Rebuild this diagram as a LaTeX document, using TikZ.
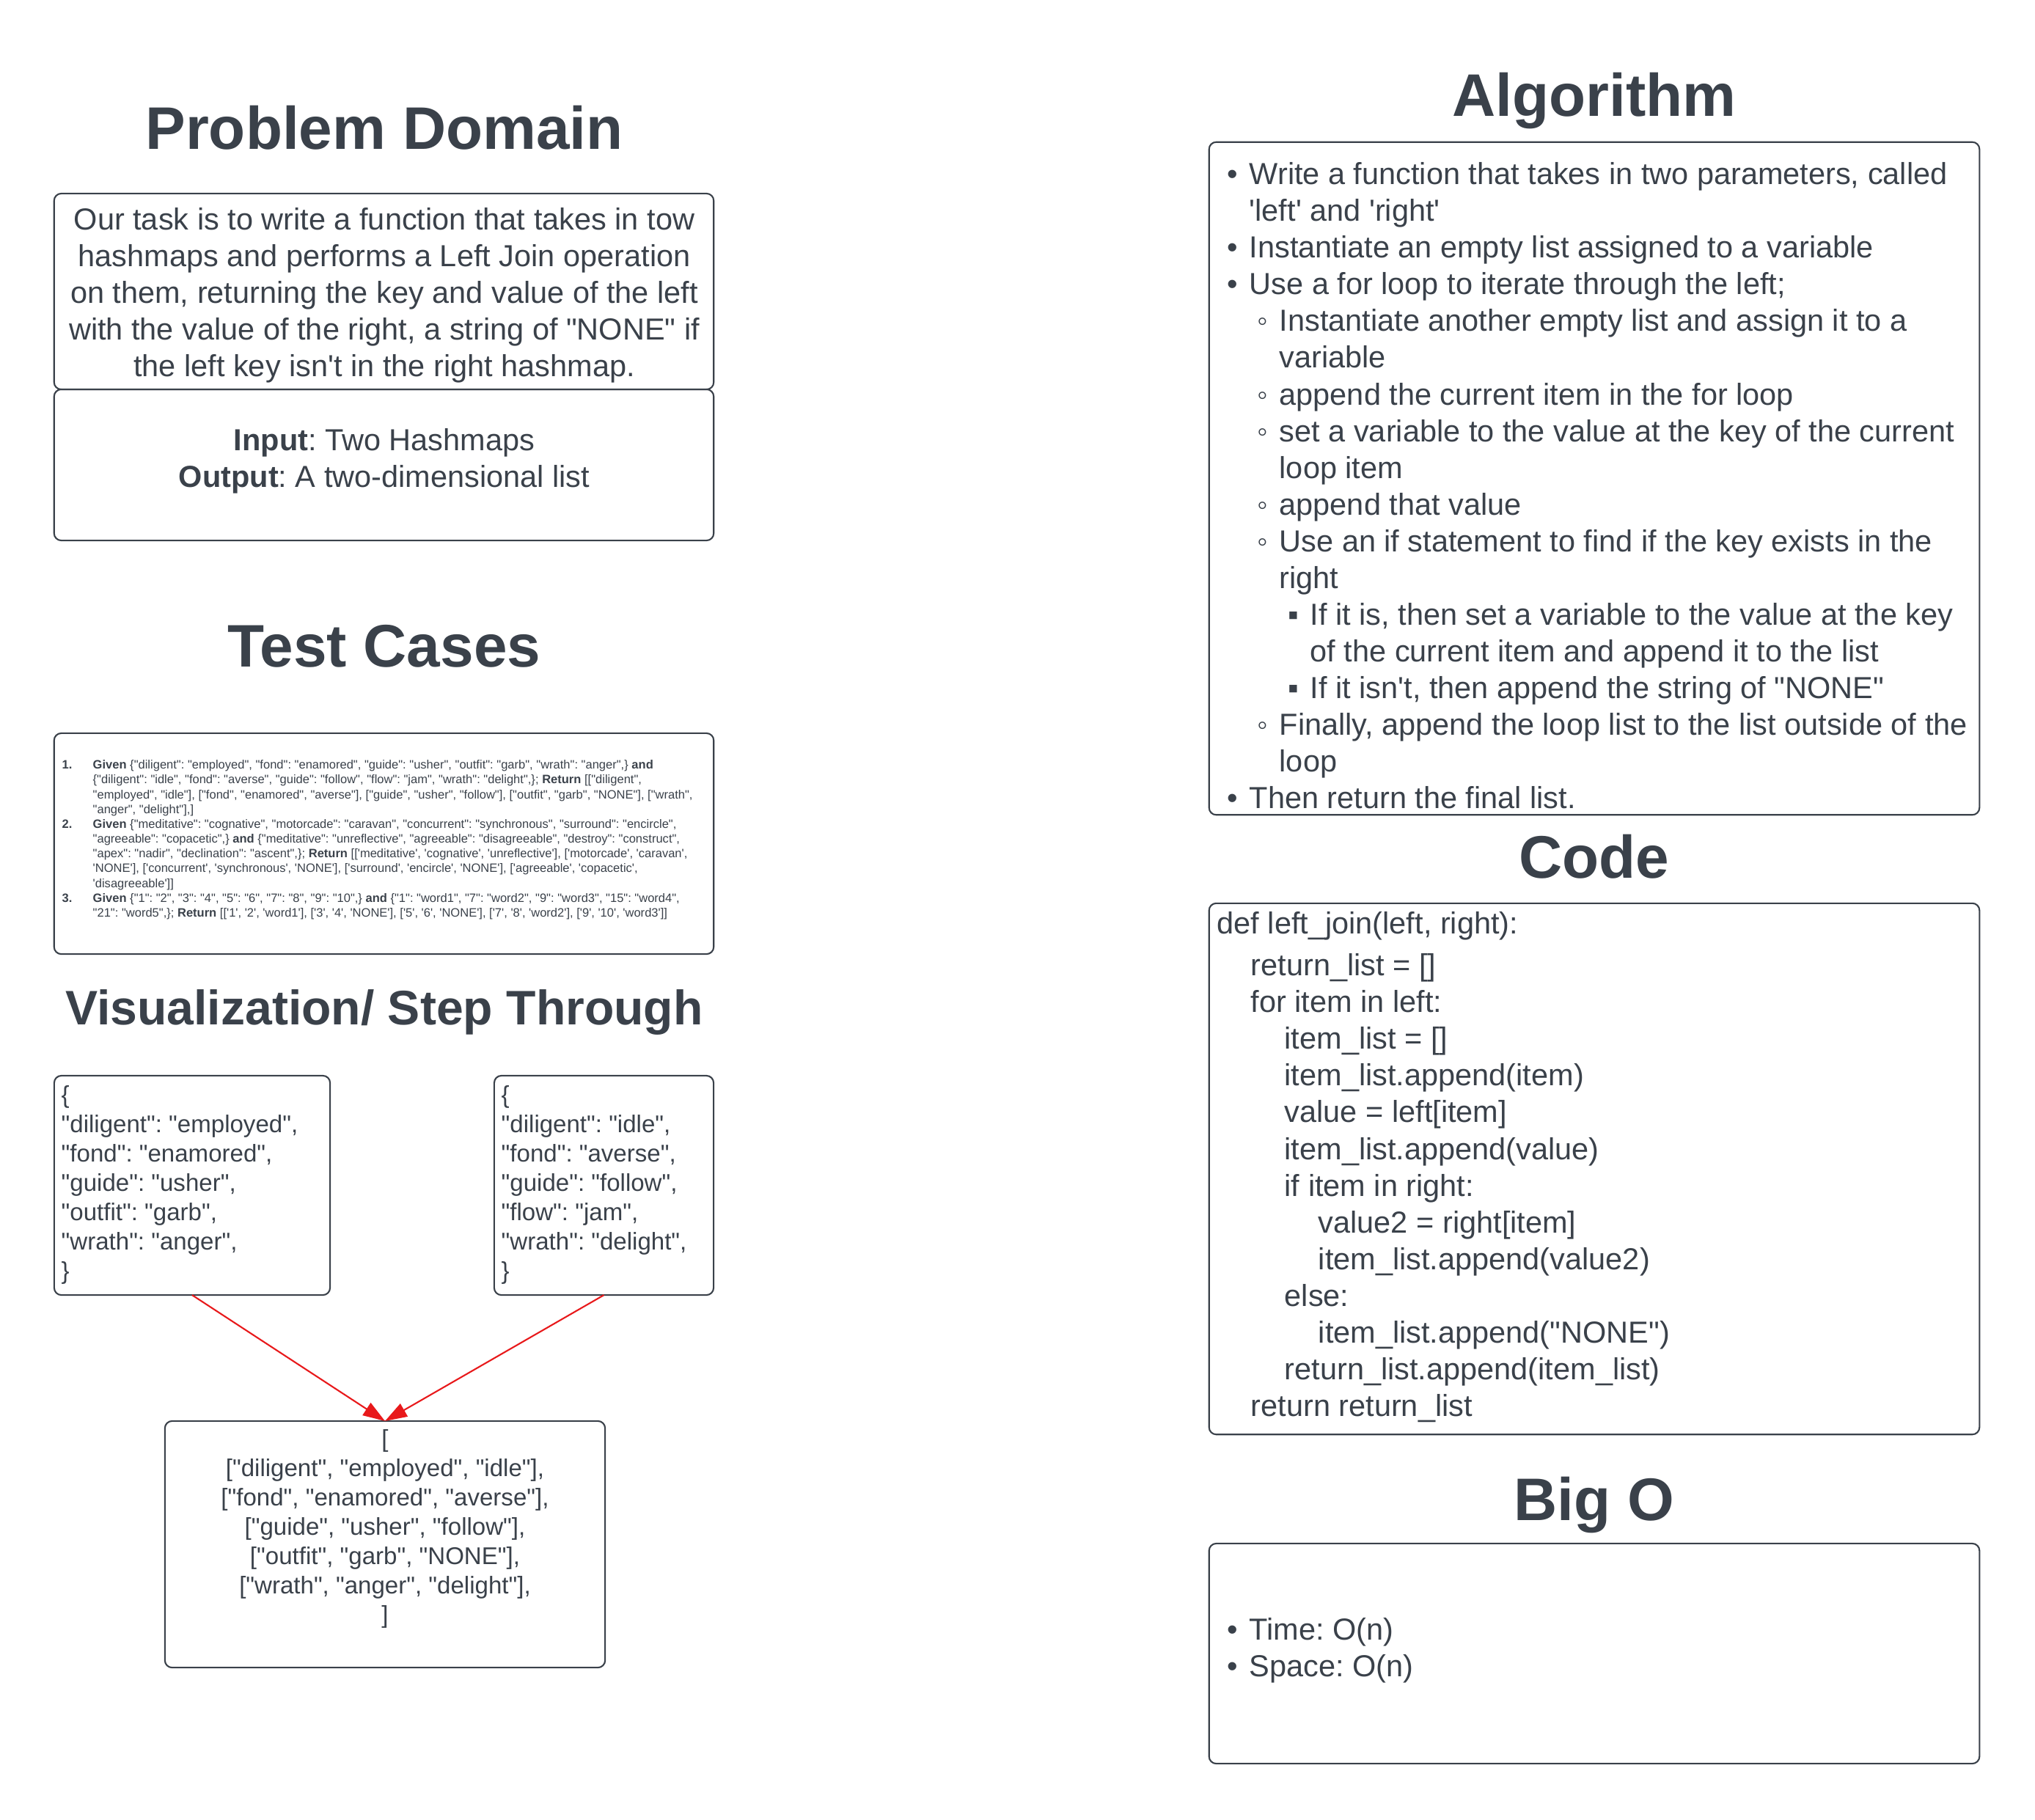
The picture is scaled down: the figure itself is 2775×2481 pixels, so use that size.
\documentclass[tikz,border=0pt]{standalone}
\usepackage{fontspec}
\setmainfont{Liberation Sans}[Ligatures=TeXOff]
\usepackage{tikz}
\usetikzlibrary{arrows.meta}
\frenchspacing
\definecolor{ljink}{HTML}{3A414A}
\definecolor{ljred}{HTML}{E8191B}
% bullets and hanging indents for the algorithm list
\newcommand{\ljA}{\makebox[0.30cm][l]{•}}
\newcommand{\ljB}{\hspace*{0.41cm}\makebox[0.30cm][l]{◦}}
\newcommand{\ljC}{\hspace*{0.83cm}\makebox[0.30cm][l]{▪}}
\newcommand{\ljAc}{\hspace*{0.30cm}}
\newcommand{\ljBc}{\hspace*{0.71cm}}
\newcommand{\ljCc}{\hspace*{1.13cm}}
\newcommand{\ljN}[1]{\makebox[0.42cm][l]{\textbf{#1}}}
\newcommand{\ljNc}{\hspace*{0.42cm}}
\tikzset{
ljbox/.style={rectangle,draw=ljink,line width=0.6pt,rounded corners=2.8pt,inner sep=0pt,outer sep=0pt},
ljtitle/.style={anchor=base,inner sep=0pt,text=ljink,font=\fontsize{23.3}{28}\selectfont\bfseries},
ljsub/.style={ljtitle,font=\fontsize{18.8}{22.5}\selectfont\bfseries},
ljtext/.style={inner sep=0pt,text=ljink,font=\fontsize{11.8}{14.23}\selectfont},
ljdict/.style={inner sep=0pt,text=ljink,font=\fontsize{9.4}{11.36}\selectfont},
ljtiny/.style={inner sep=0pt,text=ljink,font=\fontsize{4.7}{5.73}\selectfont},
ljarr/.style={-{Triangle[length=0.3cm,width=0.2cm]},draw=ljred,fill=ljred,line width=0.6pt}
}
\begin{document}
\begin{tikzpicture}[x=0.01cm,y=-0.01cm]
\useasboundingbox (0,0) rectangle (2775,2481);
% left column
\node[ljtitle] (pdtitle) at (524,203) {Problem Domain};
\node[ljbox,minimum width=8.99cm,minimum height=2.67cm] (pdbox) at (523.5,397.5) {};
\node[ljbox,minimum width=8.99cm,minimum height=2.06cm] (iobox) at (523.5,634) {};
\node[ljtext,anchor=north,align=center] (pdtext) at (524,278)
  {\strut Our task is to write a function that takes in tow\\
  hashmaps and performs a Left Join operation\\
  on them, returning the key and value of the left\\
  with the value of the right, a string of "NONE" if\\
  the left key isn't in the right hashmap.};
\node[ljtext,anchor=north,align=center] (iotext) at (524,579)
  {\strut\textbf{Input}: Two Hashmaps\\
  \textbf{Output}: A two-dimensional list};
\node[ljtitle] (tctitle) at (524,909) {Test Cases};
\node[ljbox,minimum width=8.99cm,minimum height=3.01cm] (tcbox) at (523.5,1150.5) {};
\node[ljtiny,anchor=north west,align=left] (tctext) at (84,1034)
  {\strut\ljN{1.}\textbf{Given} \{"diligent": "employed", "fond": "enamored", "guide": "usher", "outfit": "garb", "wrath": "anger",\} \textbf{and}\\
  \ljNc\{"diligent": "idle", "fond": "averse", "guide": "follow", "flow": "jam", "wrath": "delight",\}; \textbf{Return} [["diligent",\\
  \ljNc"employed", "idle"], ["fond", "enamored", "averse"], ["guide", "usher", "follow"], ["outfit", "garb", "NONE"], ["wrath",\\
  \ljNc"anger", "delight"],]\\
  \ljN{2.}\textbf{Given} \{"meditative": "cognative", "motorcade": "caravan", "concurrent": "synchronous", "surround": "encircle",\\
  \ljNc"agreeable": "copacetic",\} \textbf{and} \{"meditative": "unreflective", "agreeable": "disagreeable", "destroy": "construct",\\
  \ljNc"apex": "nadir", "declination": "ascent",\}; \textbf{Return} [['meditative', 'cognative', 'unreflective'], ['motorcade', 'caravan',\\
  \ljNc'NONE'], ['concurrent', 'synchronous', 'NONE'], ['surround', 'encircle', 'NONE'], ['agreeable', 'copacetic',\\
  \ljNc'disagreeable']]\\
  \ljN{3.}\textbf{Given} \{"1": "2", "3": "4", "5": "6", "7": "8", "9": "10",\} \textbf{and} \{"1": "word1", "7": "word2", "9": "word3", "15": "word4",\\
  \ljNc"21": "word5",\}; \textbf{Return} [['1', '2', 'word1'], ['3', '4', 'NONE'], ['5', '6', 'NONE'], ['7', '8', 'word2'], ['9', '10', 'word3']]};
\node[ljsub] (vztitle) at (524,1397) {Visualization/ Step Through};
\node[ljbox,minimum width=3.76cm,minimum height=2.99cm] (ldict) at (262,1616.5) {};
\node[ljbox,minimum width=2.99cm,minimum height=2.99cm] (rdict) at (823.5,1616.5) {};
\node[ljbox,minimum width=6.00cm,minimum height=3.36cm] (result) at (525,2106) {};
\node[ljdict,anchor=north west,align=left] (ldtext) at (83,1476)
  {\strut\{\\
  "diligent": "employed",\\
  "fond": "enamored",\\
  "guide": "usher",\\
  "outfit": "garb",\\
  "wrath": "anger",\\
  \}};
\node[ljdict,anchor=north west,align=left] (rdtext) at (683,1476)
  {\strut\{\\
  "diligent": "idle",\\
  "fond": "averse",\\
  "guide": "follow",\\
  "flow": "jam",\\
  "wrath": "delight",\\
  \}};
\node[ljdict,anchor=north,align=center] (restext) at (525,1945)
  {\strut[\\
  {[}"diligent", "employed", "idle"],\\
  {[}"fond", "enamored", "averse"],\\
  {[}"guide", "usher", "follow"],\\
  {[}"outfit", "garb", "NONE"],\\
  {[}"wrath", "anger", "delight"],\\
  ]};
\draw[ljarr] (ldict.south)--(result.north);
\draw[ljarr] (rdict.south)--(result.north);
% right column
\node[ljtitle] (algtitle) at (2174,158) {Algorithm};
\node[ljbox,minimum width=10.50cm,minimum height=9.17cm] (algbox) at (2174,652.5) {};
\node[ljtext,anchor=north west,align=left] (algtext) at (1673,216)
  {\strut\ljA Write a function that takes in two parameters, called\\
  \ljAc'left' and 'right'\\
  \ljA Instantiate an empty list assigned to a variable\\
  \ljA Use a for loop to iterate through the left;\\
  \ljB Instantiate another empty list and assign it to a\\
  \ljBc variable\\
  \ljB append the current item in the for loop\\
  \ljB set a variable to the value at the key of the current\\
  \ljBc loop item\\
  \ljB append that value\\
  \ljB Use an if statement to find if the key exists in the\\
  \ljBc right\\
  \ljC If it is, then set a variable to the value at the key\\
  \ljCc of the current item and append it to the list\\
  \ljC If it isn't, then append the string of "NONE"\\
  \ljB Finally, append the loop list to the list outside of the\\
  \ljBc loop\\
  \ljA Then return the final list.};
\node[ljtitle] (codetitle) at (2174,1197) {Code};
\node[ljbox,minimum width=10.50cm,minimum height=7.24cm] (codebox) at (2174,1594) {};
\node[ljtext,anchor=north west,align=left] (codetext) at (1659,1238)
  {\strut def left\_join(left, right):\\[0.07cm]
  \hspace*{0.46cm}return\_list = []\\
  \hspace*{0.46cm}for item in left:\\
  \hspace*{0.92cm}item\_list = []\\
  \hspace*{0.92cm}item\_list.append(item)\\
  \hspace*{0.92cm}value = left[item]\\
  \hspace*{0.92cm}item\_list.append(value)\\
  \hspace*{0.92cm}if item in right:\\
  \hspace*{1.38cm}value2 = right[item]\\
  \hspace*{1.38cm}item\_list.append(value2)\\
  \hspace*{0.92cm}else:\\
  \hspace*{1.38cm}item\_list.append("NONE")\\
  \hspace*{0.92cm}return\_list.append(item\_list)\\
  \hspace*{0.46cm}return return\_list};
\node[ljtitle] (bigotitle) at (2174,2073) {Big O};
\node[ljbox,minimum width=10.50cm,minimum height=3.00cm] (bigobox) at (2174,2255) {};
\node[ljtext,anchor=north west,align=left] (bigotext) at (1673,2201)
  {\strut\ljA Time: O(n)\\
  \ljA Space: O(n)};
\end{tikzpicture}
\end{document}
